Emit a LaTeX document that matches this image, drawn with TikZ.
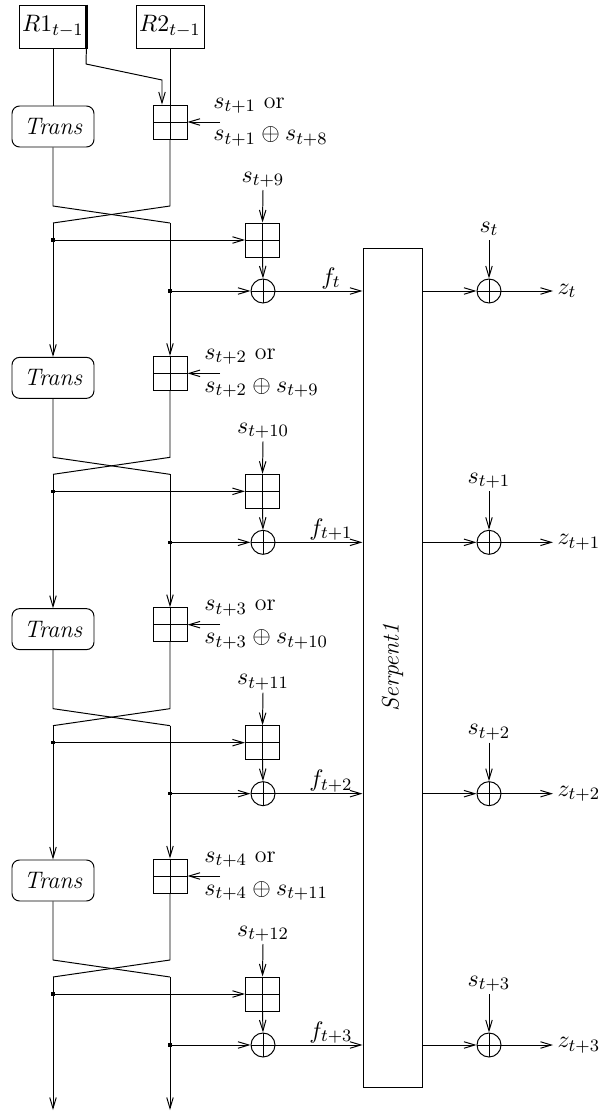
\documentclass[tikz,border=0pt]{standalone}
\usetikzlibrary{arrows.meta}
\newlength\pxu
\setlength\pxu{0.46pt}
\begin{document}
\begin{tikzpicture}[x=0.46pt, y=-0.46pt, line width=0.45pt,
  font=\fontsize{11}{13}\selectfont,
  arr/.style={-{Straight Barb[length=5pt,width=3pt]}},
  reg/.style={draw, minimum width=68\pxu, minimum height=43\pxu, inner sep=0pt},
  trans/.style={draw, rounded corners=3.5pt, minimum width=82\pxu, minimum height=41\pxu, inner sep=0pt, font=\fontsize{11}{13}\selectfont\itshape},
  pbox/.style={draw, minimum width=34\pxu, minimum height=34\pxu, inner sep=0pt,
    path picture={\draw (path picture bounding box.north) -- (path picture bounding box.south);
                  \draw (path picture bounding box.west) -- (path picture bounding box.east);}},
  xorc/.style={draw, circle, minimum size=24\pxu, inner sep=0pt,
    path picture={\draw (path picture bounding box.north) -- (path picture bounding box.south);
                  \draw (path picture bounding box.west) -- (path picture bounding box.east);}},
  dotn/.style={fill, inner sep=0pt, minimum size=3.2\pxu},
  lbl/.style={inner sep=0pt, anchor=base},
  lblw/.style={inner sep=0pt, anchor=base west},
]
\useasboundingbox (0,0) rectangle (604,1115);

% registers
\node[reg] (R1) at (53,26.5) {$R1_{t-1}$};
\node[reg] (R2) at (170,26.5) {$R2_{t-1}$};
\draw[line width=1.3pt] ([xshift=-0.5pt]R1.north east) -- ([xshift=-0.5pt]R1.south east);

% Serpent box
\node[draw, minimum width=59\pxu, minimum height=839\pxu, inner sep=0pt] (S) at (392.5,667.5) {};
\node[rotate=90, inner sep=0pt] (SL) at (S.center) {\textit{Serpent1}};

% nodes of all stages
\foreach \k/\la/\lx/\sa/\sb/\sc/\sub in {0/1/213/1/8/9/,1/2/204/2/9/10/+1,2/3/204/3/10/11/+2,3/4/204/4/11/12/+3}{
  \pgfmathsetmacro\yo{251.33*\k}
  \node[trans] (T\k) at (53,\yo+126.5) {Trans};
  \node[pbox] (A\k) at (170,\yo+122) {};
  \node[pbox] (B\k) at (262.5,\yo+240) {};
  \node[xorc] (X\k) at (263,\yo+291) {};
  \node[xorc] (Y\k) at (489,\yo+291) {};
  \node[dotn] (DL\k) at (53,\yo+240) {};
  \node[dotn] (DR\k) at (170,\yo+291) {};
  \coordinate (AI\k) at (220,\yo+122);
  \coordinate (CL1\k) at (53,\yo+206);
  \coordinate (CR1\k) at (170,\yo+206);
  \coordinate (CL2\k) at (53,\yo+223);
  \coordinate (CR2\k) at (170,\yo+223);
  \coordinate (BI\k) at (263,\yo+190);
  \coordinate (YI\k) at (489,\yo+240);
  \coordinate (ZE\k) at (553,\yo+291);
  % labels
  \node[lblw] (LA\k) at (\lx,\yo+108) {$s_{t+\sa}$ or};
  \node[lblw] (LB\k) at (\lx,\yo+141) {$s_{t+\sa}\oplus s_{t+\sb}$};
  \node[lbl] (LC\k) at (263,\yo+182) {$s_{t+\sc}$};
  \node[lbl] (LF\k) at (331,\yo+284) {$f_{t\sub}$};
  \node[lbl] (LS\k) at (489,\yo+232) {$s_{t\sub}$};
  \node[anchor=west, inner sep=1pt] (LZ\k) at (555,\yo+291) {$z_{t\sub}$};
}
\coordinate (T4) at (53,1110);
\coordinate (A4) at (170,1110);

% first-stage inputs
\draw (R1) -- (T0);
\draw (R2) -- (A0);
\coordinate (K1) at (86,64);
\coordinate (K2) at (162,80);
\draw[arr] ([xshift=-0.5pt]R1.south east) -- (K1) -- (K2) -- (K2 |- A0.north);

% connectors of all stages
\foreach \k in {0,1,2,3}{
  \pgfmathtruncatemacro\kn{\k+1}
  \draw[arr] (AI\k) -- (A\k.east);
  \draw (T\k) -- (CL1\k) -- (CR2\k);
  \draw (A\k) -- (CR1\k) -- (CL2\k);
  \draw[arr] (CL2\k) -- (T\kn);
  \draw[arr] (CR2\k) -- (A\kn);
  \draw[arr] (DL\k.center) -- (B\k.west);
  \draw[arr] (BI\k) -- (B\k.north);
  \draw[arr] (B\k.south) -- (X\k.north);
  \draw[arr] (DR\k.center) -- (X\k.west);
  \draw[arr] (X\k.east) -- (X\k.east -| S.west);
  \draw[arr] (X\k.east -| S.east) -- (Y\k.west);
  \draw[arr] (YI\k) -- (Y\k.north);
  \draw[arr] (Y\k.east) -- (ZE\k);
}
\end{tikzpicture}
\end{document}
